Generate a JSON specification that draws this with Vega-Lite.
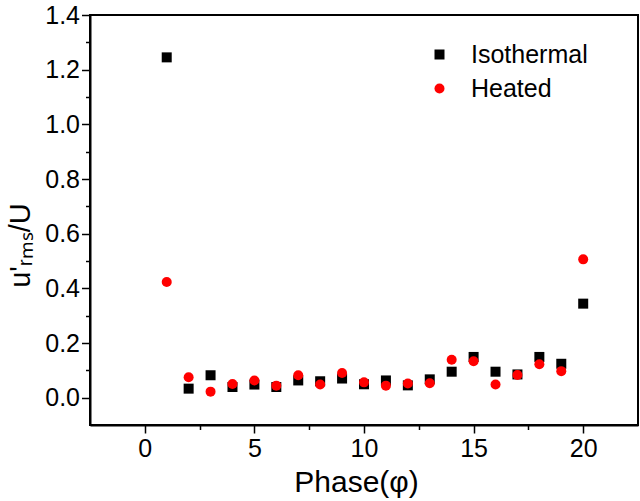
{
  "$schema": "https://vega.github.io/schema/vega-lite/v6.json",
  "width": 548,
  "height": 410,
  "autosize": {"type": "none"},
  "padding": {"left": 90, "top": 15, "right": 2, "bottom": 76},
  "background": "white",
  "config": {
    "font": "Liberation Sans",
    "view": {"stroke": "black", "strokeWidth": 2},
    "axis": {
      "grid": false,
      "domainColor": "black",
      "domainWidth": 2,
      "tickColor": "black",
      "tickWidth": 1.5,
      "labelColor": "black",
      "labelFont": "Liberation Sans",
      "labelFontSize": 25,
      "titleFont": "Liberation Sans",
      "titleFontSize": 30,
      "titleFontWeight": "normal",
      "titleColor": "black"
    },
    "legend": {
      "labelFont": "Liberation Sans",
      "labelFontSize": 25,
      "labelColor": "black"
    }
  },
  "data": {
    "values": [
      {"phase": 1, "case": "Isothermal", "u": 1.245},
      {"phase": 2, "case": "Isothermal", "u": 0.033},
      {"phase": 3, "case": "Isothermal", "u": 0.082},
      {"phase": 4, "case": "Isothermal", "u": 0.039},
      {"phase": 5, "case": "Isothermal", "u": 0.048},
      {"phase": 6, "case": "Isothermal", "u": 0.039},
      {"phase": 7, "case": "Isothermal", "u": 0.063},
      {"phase": 8, "case": "Isothermal", "u": 0.060},
      {"phase": 9, "case": "Isothermal", "u": 0.070},
      {"phase": 10, "case": "Isothermal", "u": 0.049},
      {"phase": 11, "case": "Isothermal", "u": 0.063},
      {"phase": 12, "case": "Isothermal", "u": 0.045},
      {"phase": 13, "case": "Isothermal", "u": 0.067},
      {"phase": 14, "case": "Isothermal", "u": 0.095},
      {"phase": 15, "case": "Isothermal", "u": 0.149},
      {"phase": 16, "case": "Isothermal", "u": 0.095},
      {"phase": 17, "case": "Isothermal", "u": 0.085},
      {"phase": 18, "case": "Isothermal", "u": 0.149},
      {"phase": 19, "case": "Isothermal", "u": 0.124},
      {"phase": 20, "case": "Isothermal", "u": 0.344},
      {"phase": 1, "case": "Heated", "u": 0.423},
      {"phase": 2, "case": "Heated", "u": 0.075},
      {"phase": 3, "case": "Heated", "u": 0.022},
      {"phase": 4, "case": "Heated", "u": 0.050},
      {"phase": 5, "case": "Heated", "u": 0.063},
      {"phase": 6, "case": "Heated", "u": 0.044},
      {"phase": 7, "case": "Heated", "u": 0.082},
      {"phase": 8, "case": "Heated", "u": 0.048},
      {"phase": 9, "case": "Heated", "u": 0.090},
      {"phase": 10, "case": "Heated", "u": 0.056},
      {"phase": 11, "case": "Heated", "u": 0.044},
      {"phase": 12, "case": "Heated", "u": 0.052},
      {"phase": 13, "case": "Heated", "u": 0.053},
      {"phase": 14, "case": "Heated", "u": 0.139},
      {"phase": 15, "case": "Heated", "u": 0.133},
      {"phase": 16, "case": "Heated", "u": 0.048},
      {"phase": 17, "case": "Heated", "u": 0.083},
      {"phase": 18, "case": "Heated", "u": 0.122},
      {"phase": 19, "case": "Heated", "u": 0.097},
      {"phase": 20, "case": "Heated", "u": 0.506}
    ]
  },
  "mark": {"type": "point", "filled": true, "opacity": 1, "size": 100, "strokeWidth": 0},
  "encoding": {
    "x": {
      "field": "phase",
      "type": "quantitative",
      "scale": {"domain": [-2.5, 22.5], "nice": false, "zero": false},
      "axis": {
        "values": [0, 2.5, 5, 7.5, 10, 12.5, 15, 17.5, 20],
        "tickSize": {"expr": "datum.value % 5 == 0 ? 8 : 4.5"},
        "labelExpr": "datum.value % 5 == 0 ? datum.label : ''",
        "labelPadding": 3,
        "title": "Phase(φ)",
        "titleBaseline": "alphabetic",
        "titleY": 66,
        "titleX": 266
      }
    },
    "y": {
      "field": "u",
      "type": "quantitative",
      "scale": {"domain": [-0.1, 1.4], "nice": false, "zero": false},
      "axis": {
        "values": [0, 0.1, 0.2, 0.3, 0.4, 0.5, 0.6, 0.7, 0.8, 0.9, 1.0, 1.1, 1.2, 1.3, 1.4],
        "tickSize": {"expr": "round(datum.value * 10) % 2 == 0 ? 8.5 : 4.5"},
        "labelExpr": "round(datum.value * 10) % 2 == 0 ? format(datum.value, '.1f') : ''",
        "labelPadding": 2,
        "title": "u'ᵣₘₛ/U",
        "titleFontSize": 29,
        "titleBaseline": "alphabetic",
        "titleX": -61,
        "titleY": 230
      }
    },
    "color": {
      "field": "case",
      "type": "nominal",
      "scale": {"domain": ["Isothermal", "Heated"], "range": ["black", "#ff0000"]},
      "legend": {
        "title": null,
        "orient": "none",
        "legendX": 337,
        "legendY": 27,
        "symbolSize": 100,
        "symbolStrokeWidth": 0,
        "labelOffset": 19,
        "rowPadding": 8
      }
    },
    "shape": {
      "field": "case",
      "type": "nominal",
      "scale": {"domain": ["Isothermal", "Heated"], "range": ["square", "circle"]}
    }
  }
}
